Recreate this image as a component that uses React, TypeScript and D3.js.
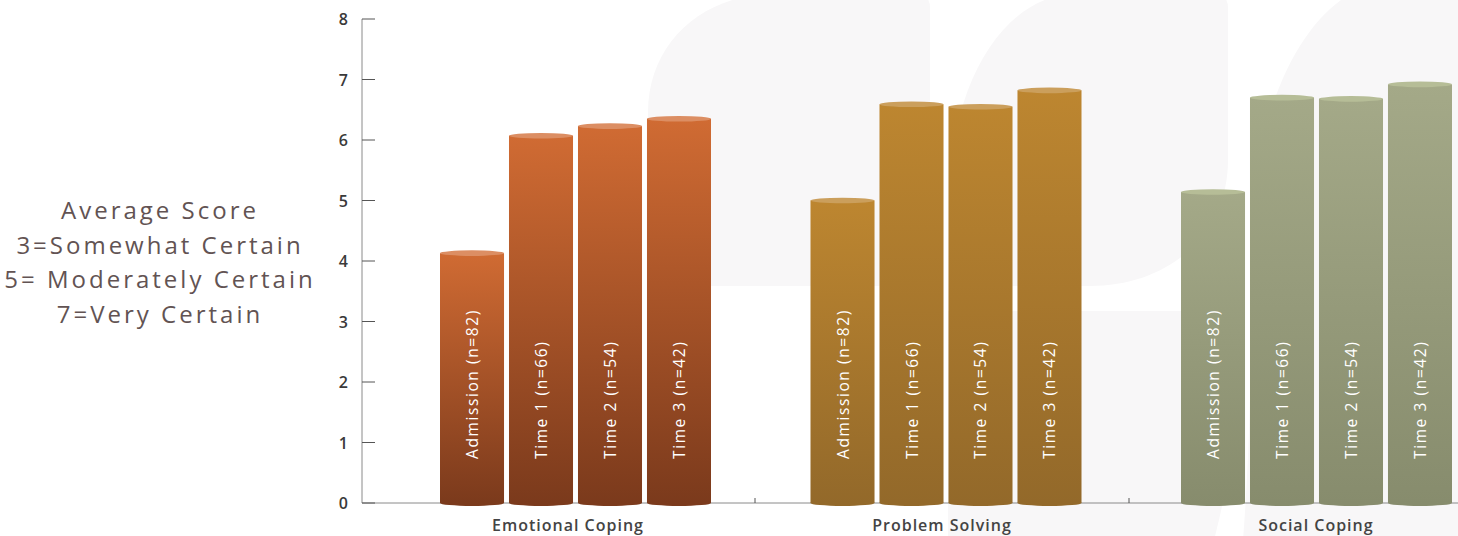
import React from "react";
import * as d3 from "d3";

const groups = ["Emotional Coping", "Problem Solving", "Social Coping"];
const timepoints = ["Admission (n=82)", "Time 1 (n=66)", "Time 2 (n=54)", "Time 3 (n=42)"];
const emotionalCoping = [4.13, 6.07, 6.23, 6.35];
const problemSolving = [5.0, 6.59, 6.55, 6.82];
const socialCoping = [5.14, 6.7, 6.68, 6.92];
const yTicks = [0, 1, 2, 3, 4, 5, 6, 7, 8];
const yTitleLines = ["Average Score", "3=Somewhat Certain", "5= Moderately Certain", "7=Very Certain"];

const palettes = [
  { id: "gEmo", top: "#d06b33", bottom: "#7b3a1c", cap: "#dc8e63" },
  { id: "gPS", top: "#bd8630", bottom: "#93692a", cap: "#cb9f5c" },
  { id: "gSoc", top: "#a4a988", bottom: "#878c6d", cap: "#b6bd97" },
];

const FONT = "'Open Sans', 'Noto Sans', sans-serif";

export default function App() {
  const W = 1458;
  const H = 536;
  const y = d3.scaleLinear().domain([0, 8]).range([503, 19]);
  const xAxisBand = d3.scaleBand<string>().domain(groups).range([381, 1503]);
  const xGroup = d3.scaleBand<string>().domain(groups).range([387.5, 1499]);
  const xBar = d3.scaleBand<string>().domain(timepoints).range([52.5, 323.5]).paddingInner(0.072);
  const series = [emotionalCoping, problemSolving, socialCoping];
  const bw = xBar.bandwidth();
  const bg = "#f8f7f8";

  return (
    <svg width={W} height={H} style={{ position: "absolute", left: 0, top: 0 }} fontFamily={FONT}>
      <defs>
        {palettes.map((p) => (
          <linearGradient key={p.id} id={p.id} x1="0" y1="0" x2="0" y2="1">
            <stop offset="0" stopColor={p.top} />
            <stop offset="1" stopColor={p.bottom} />
          </linearGradient>
        ))}
      </defs>
      <rect width={W} height={H} fill="#fff" />
      {/* faint background shapes */}
      <path d="M648,286 V112 C648,45 700,-4 770,-6 H916 Q930,-6 930,8 V286 Z" fill={bg} />
      <path d="M949,286 V200 C949,90 1000,-2 1072,-6 H1214 Q1228,-6 1228,8 V160 C1228,235 1168,286 1090,286 Z" fill={bg} />
      <path d="M948,311 H1240 C1242,400 1232,470 1214,540 H948 Z" fill={bg} />
      <path d="M1243,540 C1250,450 1252,350 1251,250 C1251,130 1290,30 1350,-6 H1470 V540 Z" fill={bg} />

      {/* axes */}
      <line x1={362} x2={362} y1={y(8)} y2={y(0)} stroke="#8a8a8a" strokeWidth={1} />
      <line x1={362} x2={W} y1={y(0)} y2={y(0)} stroke="#8a8a8a" strokeWidth={1} />
      {yTicks.map((t) => (
        <g key={t}>
          <line x1={362} x2={375} y1={y(t)} y2={y(t)} stroke="#555" strokeWidth={1} />
          <text x={348} y={y(t)} textAnchor="end" dominantBaseline="central" fontSize={16} fontWeight={600} fill="#3a3a3a">
            {t}
          </text>
        </g>
      ))}
      {groups.slice(1).map((g) => (
        <line key={g} x1={xAxisBand(g)!} x2={xAxisBand(g)!} y1={y(0) - 5} y2={y(0)} stroke="#555" strokeWidth={1} />
      ))}

      {/* bars */}
      {groups.map((g, gi) => {
        const p = palettes[gi];
        return (
          <g key={g}>
            {series[gi].map((v, i) => {
              const x = xGroup(g)! + xBar(timepoints[i])!;
              const cx = x + bw / 2;
              const top = y(v);
              return (
                <g key={i}>
                  <ellipse cx={cx} cy={y(0)} rx={bw / 2} ry={3} fill={p.bottom} />
                  <rect x={x} y={top} width={bw} height={y(0) - top} fill={`url(#${p.id})`} />
                  <ellipse cx={cx} cy={top} rx={bw / 2} ry={2.8} fill={p.cap} />
                  <text
                    transform={`translate(${cx},459) rotate(-90)`}
                    textAnchor="start"
                    dominantBaseline="central"
                    fontSize={15.5}
                    letterSpacing={1.6}
                    fill="#fff"
                  >
                    {timepoints[i]}
                  </text>
                </g>
              );
            })}
          </g>
        );
      })}

      {/* group labels */}
      {groups.map((g) => (
        <text
          key={g}
          x={xAxisBand(g)! + xAxisBand.bandwidth() / 2}
          y={531}
          textAnchor="middle"
          fontSize={16}
          fontWeight={600}
          letterSpacing={1}
          fill="#444"
        >
          {g}
        </text>
      ))}

      {/* y title */}
      <text textAnchor="middle" fontSize={24} fill="#625353" letterSpacing={3}>
        {yTitleLines.map((l, i) => (
          <tspan key={i} x={160} y={219 + i * 34.5}>
            {l}
          </tspan>
        ))}
      </text>
    </svg>
  );
}
